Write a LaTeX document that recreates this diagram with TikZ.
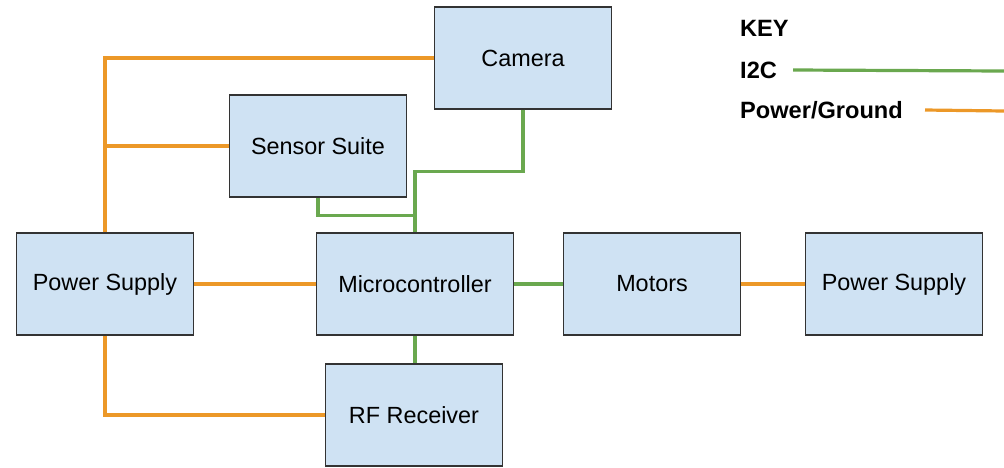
\documentclass[tikz,border=0pt]{standalone}
\usepackage{fontspec}
\setmainfont{Liberation Sans}
\usepackage{xcolor}
\definecolor{boxfill}{RGB}{207,226,243}
\definecolor{boxline}{RGB}{51,51,51}
\definecolor{pwrline}{RGB}{236,152,40}
\definecolor{busline}{RGB}{106,168,79}

\begin{document}
\begin{tikzpicture}[x=1pt, y=-1pt,
    block/.style={draw=boxline, line width=1.2pt, fill=boxfill, inner sep=0pt,
        minimum width=177pt, minimum height=102pt, font=\fontsize{23.4}{28}\selectfont},
    pwr/.style={pwrline, line width=3.2pt},
    i2c/.style={busline, line width=3.2pt},
    keytext/.style={anchor=west, inner sep=0pt, font=\fontsize{23.6}{28}\selectfont\bfseries}]
    \useasboundingbox (0,0) rectangle (1004,467);

    % Blocks
    \node[block] (cam) at (523,58) {Camera};
    \node[block] (sensors) at (318,146) {Sensor Suite};
    \node[block] (psuL) at (105,284) {Power Supply};
    \node[block, minimum width=197pt] (mcu) at (415,284) {Microcontroller};
    \node[block] (motors) at (652,284) {Motors};
    \node[block] (psuR) at (894,284) {Power Supply};
    \node[block] (rf) at (414,415) {RF Receiver};

    % Power and ground wiring
    \draw[pwr] (psuL.north) |- (cam.west);
    \draw[pwr] (psuL.north |- sensors.west) -- (sensors.west);
    \draw[pwr] (psuL.east) -- (mcu.west);
    \draw[pwr] (psuL.south) |- (rf.west);
    \draw[pwr] (motors.east) -- (psuR.west);

    % I2C bus
    \draw[i2c] (cam.south) -- ++(0,62) -| (mcu.north);
    \draw[i2c] (sensors.south) -- ++(0,18) -| (mcu.north);
    \draw[i2c] (mcu.south) -- (mcu.south |- rf.north);
    \draw[i2c] (mcu.east) -- (motors.west);

    % Key
    \node[keytext] (key) at (740,28) {KEY};
    \node[keytext] (keyI2C) at (740,70) {I2C};
    \node[keytext] (keyPwr) at (740,110) {Power/Ground};
    \coordinate (i2cEnd) at (1004,71);
    \coordinate (pwrEnd) at (1004,111);
    \draw[i2c] (keyI2C.east -| 793,0) -- (i2cEnd);
    \draw[pwr] (keyPwr.east -| 925,0) -- (pwrEnd);
\end{tikzpicture}
\end{document}
